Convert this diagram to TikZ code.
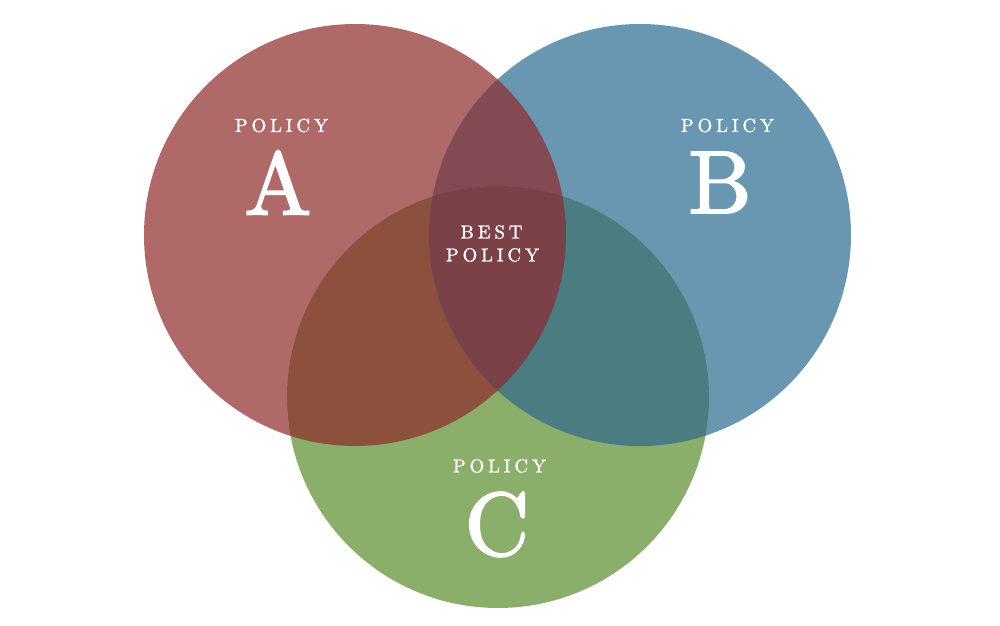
\documentclass[tikz,border=0pt]{standalone}
\usepackage{fontspec}
\newfontfamily\tagfont{lmroman10-regular}[Extension=.otf,LetterSpace=21,FakeBold=1.2]
\newfontfamily\capfont{lmroman10-regular}[Extension=.otf,FakeBold=2.2]
\definecolor{polA}{HTML}{B06969}
\definecolor{polB}{HTML}{6996B1}
\definecolor{polC}{HTML}{8BAF6A}
\definecolor{polAB}{HTML}{844A53}
\definecolor{polAC}{HTML}{8D503D}
\definecolor{polBC}{HTML}{4A7C82}
\definecolor{polABC}{HTML}{7A4148}

\begin{document}
\begin{tikzpicture}[x=0.03cm,y=-0.03cm,
        tag/.style={text=white,inner sep=0pt,font=\tagfont\fontsize{16}{18}\selectfont},
        bigcap/.style={text=white,inner sep=0pt,font=\capfont\fontsize{76}{80}\selectfont}]
        \useasboundingbox (0,0) rectangle (1000,626);
        \coordinate (a) at (355,235);
        \coordinate (b) at (640,235);
        \coordinate (c) at (498,397);
        % the three policies
        \fill[polA] (a) circle[radius=211];
        \fill[polB] (b) circle[radius=211];
        \fill[polC] (c) circle[radius=211];
        % overlaps
        \begin{scope}
            \clip (a) circle[radius=211];
            \fill[polAB] (b) circle[radius=211];
            \fill[polAC] (c) circle[radius=211];
        \end{scope}
        \begin{scope}
            \clip (b) circle[radius=211];
            \fill[polBC] (c) circle[radius=211];
            \clip (a) circle[radius=211];
            \fill[polABC] (c) circle[radius=211];
        \end{scope}
        % labels
        \node[tag] (tagA) at (281.5,125.5) {POLICY};
        \node[bigcap] (capA) at (278,182.5) {A};
        \node[tag] (tagB) at (727.5,125.5) {POLICY};
        \node[bigcap] (capB) at (720,182.5) {B};
        \node[tag] (tagC) at (499.5,466) {POLICY};
        \node[bigcap] (capC) at (497,524.5) {C};
        \node[tag] (best) at (491.5,232) {BEST};
        \node[tag] (bestpol) at (492.5,255) {POLICY};
    \end{tikzpicture}
\end{document}
